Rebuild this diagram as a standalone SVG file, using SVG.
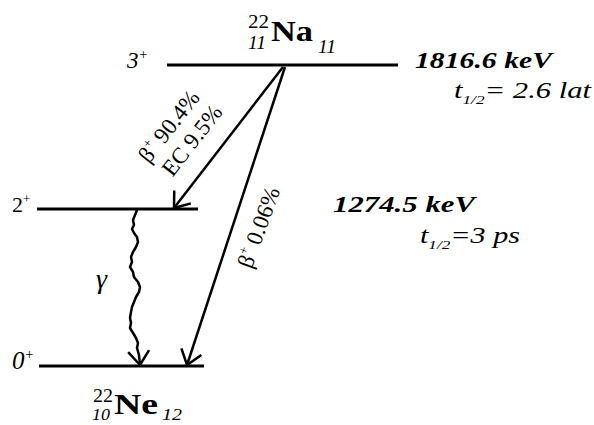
<svg xmlns="http://www.w3.org/2000/svg" width="594" height="425" viewBox="0 0 594 425">
<style>
text{font-family:"Liberation Serif","Times New Roman","DejaVu Serif",serif;fill:#000}
.lvl{stroke:#000;stroke-width:3;fill:none}
.arr{stroke:#000;stroke-width:2.5;fill:none}
.it{font-style:italic}
.b{font-weight:bold}
</style>
<defs>
<marker id="open" viewBox="-16 -13 18 26" refX="0" refY="0" markerWidth="18" markerHeight="26" markerUnits="userSpaceOnUse" orient="auto">
<path d="M-14,-10.5 L0,0 L-14,10.5" fill="none" stroke="#000" stroke-width="2.5"/>
</marker>
</defs>
<rect width="594" height="425" fill="#fff"/>
<g id="na22">
<text x="248" y="28" font-size="19" textLength="21" lengthAdjust="spacingAndGlyphs">22</text>
<text x="248" y="49" font-size="18" class="it" textLength="18" lengthAdjust="spacingAndGlyphs">11</text>
<text x="271" y="41" font-size="29" class="b" textLength="42" lengthAdjust="spacingAndGlyphs">Na</text>
<text x="318" y="53" font-size="18" class="it" textLength="18" lengthAdjust="spacingAndGlyphs">11</text>
</g>
<g id="level3">
<line class="lvl" x1="167" y1="65" x2="398" y2="65"/>
<text x="127" y="68" font-size="23" class="it">3<tspan font-size="14" dy="-9">+</tspan></text>
<text x="415" y="68" font-size="23" class="it b" textLength="137" lengthAdjust="spacingAndGlyphs">1816.6 keV</text>
<text x="454" y="98" font-size="23" class="it" textLength="137" lengthAdjust="spacingAndGlyphs">t<tspan font-size="13" dy="6">1/2</tspan><tspan dy="-6">= 2.6 lat</tspan></text>
</g>
<g id="level2">
<line class="lvl" x1="37" y1="209" x2="198" y2="209"/>
<text x="12" y="212" font-size="22">2<tspan font-size="13" dy="-9">+</tspan></text>
<text x="333" y="212" font-size="23" class="it b" textLength="142" lengthAdjust="spacingAndGlyphs">1274.5 keV</text>
<text x="420" y="243" font-size="23" class="it" textLength="100" lengthAdjust="spacingAndGlyphs">t<tspan font-size="13" dy="6">1/2</tspan><tspan dy="-6">=3 ps</tspan></text>
</g>
<g id="level0">
<line class="lvl" x1="39" y1="366" x2="204" y2="366"/>
<text x="12" y="369" font-size="25" class="it">0<tspan font-size="14" dy="-10">+</tspan></text>
</g>
<g id="ne22">
<text x="93" y="402" font-size="18" textLength="20" lengthAdjust="spacingAndGlyphs">22</text>
<text x="92" y="420" font-size="17" class="it" textLength="18" lengthAdjust="spacingAndGlyphs">10</text>
<text x="114" y="414" font-size="29" class="b" textLength="44" lengthAdjust="spacingAndGlyphs">Ne</text>
<text x="162" y="420" font-size="17" class="it" textLength="20" lengthAdjust="spacingAndGlyphs">12</text>
</g>
<g id="connectors">
<line class="arr" x1="283" y1="67" x2="174" y2="208" marker-end="url(#open)"/>
<line class="arr" x1="285" y1="67" x2="187" y2="365" marker-end="url(#open)"/>
<path class="arr" stroke-width="2" stroke-linejoin="round" marker-end="url(#open)" d="M137,210 L135,215 L133,220 L134,225 L132,229 L134,233 L137,237 L138,242 L136,247 L133,252 L131,257 L132,262 L130,267 L133,272 L134,277 L138,282 L140,287 L139,292 L136,297 L134,302 L132,307 L131,312 L130,318 L131,323 L130,328 L133,333 L136,338 L138,343 L137,348 L139,355 L140,365"/>
<text x="96" y="288" font-size="28" class="it">γ</text>
<text transform="translate(175,131) rotate(-52)" text-anchor="middle" font-size="23">β<tspan font-size="13" dy="-10">+</tspan><tspan dy="10"> 90.4%</tspan></text>
<text transform="translate(198,145) rotate(-52)" text-anchor="middle" font-size="23">EC 9.5%</text>
<text transform="translate(266,230) rotate(-70)" text-anchor="middle" font-size="23">β<tspan font-size="13" dy="-10">+</tspan><tspan dy="10"> 0.06%</tspan></text>
</g>
</svg>
